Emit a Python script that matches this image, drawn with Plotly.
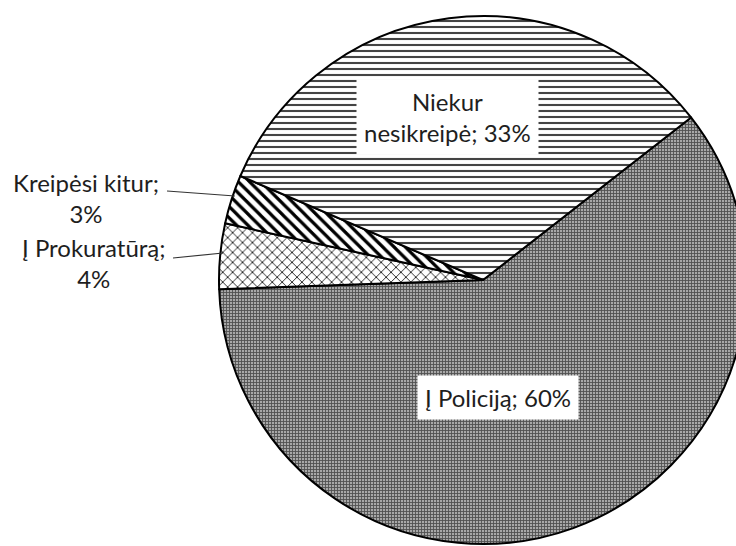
import plotly.graph_objects as go

labels = ["Į Policiją", "Į Prokuratūrą", "Kreipėsi kitur", "Niekur nesikreipė"]
values = [60, 4, 3, 33]
shapes_pat = ["+", "x", "\\", "-"]

W, H = 780, 546
cx, cy, r = 483, 280, 264

fig = go.Figure(go.Pie(
    labels=labels,
    values=values,
    sort=False,
    direction="clockwise",
    rotation=52,
    textinfo="none",
    hoverinfo="label+percent",
    marker=dict(
        colors=["white"] * 4,
        line=dict(color="black", width=2),
        pattern=dict(
            shape=shapes_pat,
            fgcolor=["#505050", "black", "black", "#444444"],
            bgcolor=["#a8a8a8", "white", "white", "white"],
            size=[3, 7, 8, 6],
            solidity=[0.5, 0.22, 0.4, 0.35],
        ),
    ),
    domain=dict(x=[(cx - r) / W, (cx + r) / W], y=[1 - (cy + r) / H, 1 - (cy - r) / H]),
    showlegend=False,
))

font = dict(family="Lato, Calibri, Carlito, sans-serif", size=24, color="#1e1e1e")

def px(x, y):
    return x / W, 1 - y / H

anns = [
    ("Niekur<br>nesikreipė; 33%", 448, 117, True),
    ("Į Policiją; 60%", 498, 397, True),
    ("Kreipėsi kitur;<br>3%", 86, 198, False),
    ("Į Prokuratūrą;<br>4%", 94, 263, False),
]
for text, x, y, box in anns:
    ax_, ay_ = px(x, y)
    fig.add_annotation(
        x=ax_, y=ay_, xref="paper", yref="paper", text=text, showarrow=False,
        font=font, align="center", xanchor="center", yanchor="middle",
        bgcolor="white" if box else "rgba(0,0,0,0)", borderpad=7 if box else 0,
    )

for (x0, y0, x1, y1) in [(167, 191, 235, 196), (173, 258, 223, 253)]:
    a0, b0 = px(x0, y0)
    a1, b1 = px(x1, y1)
    fig.add_shape(type="line", xref="paper", yref="paper", x0=a0, y0=b0, x1=a1, y1=b1,
                  line=dict(color="#333333", width=1.2))

fig.update_layout(
    width=W, height=H, autosize=False,
    margin=dict(l=0, r=0, t=0, b=0),
    paper_bgcolor="white", plot_bgcolor="white",
)

fig.write_html("out.html", config=dict(displayModeBar=False), post_script=(
    "document.documentElement.style.overflow='hidden';"
    "document.body.style.overflow='hidden';document.body.style.margin='0';"
))
